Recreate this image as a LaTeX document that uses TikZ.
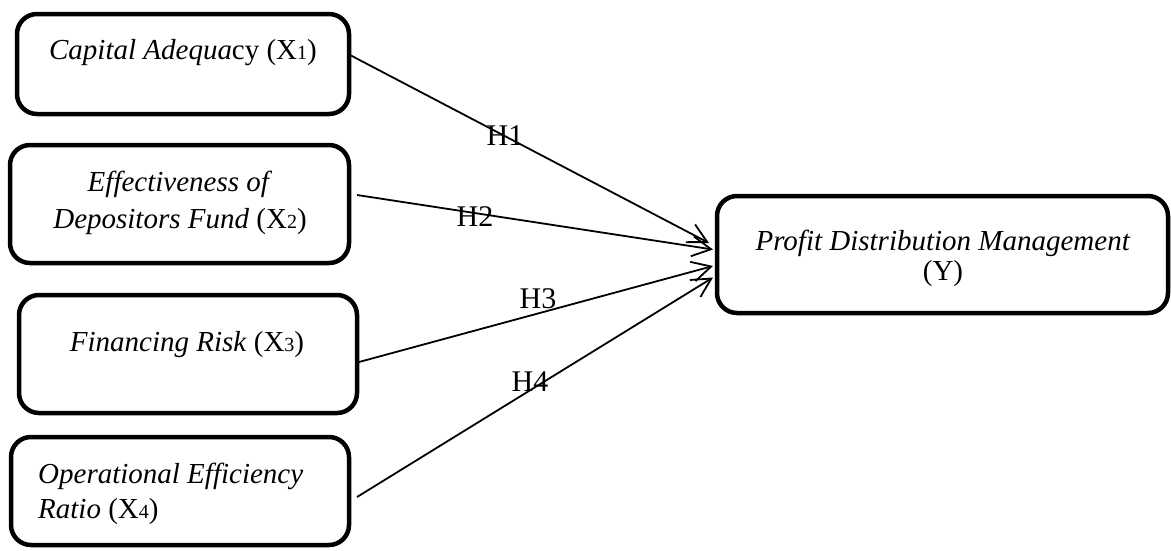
\documentclass[tikz,border=0pt]{standalone}
\usepackage{fontspec}
\setmainfont{Liberation Serif}
\usetikzlibrary{arrows.meta,calc}
\newcommand{\sbd}[1]{{\fontsize{20}{20}\selectfont #1}}
\begin{document}
\begin{tikzpicture}[x=1pt,y=-1pt,
  box/.style={draw=black,line width=4.5pt,rounded corners=20pt,inner sep=0pt,outer sep=0pt},
  txt/.style={font=\fontsize{29}{37}\selectfont,inner sep=0pt},
  lab/.style={font=\fontsize{30}{30}\selectfont,inner sep=0pt},
  arr/.style={line width=1.8pt,-{Straight Barb[length=19pt,width=20pt,line width=1.8pt]}}]
\path[use as bounding box,fill=white] (0,0) rectangle (1171,550);
% boxes
\node[box,minimum width=332pt,minimum height=100pt] (b1) at (183,64) {};
\node[box,minimum width=339pt,minimum height=118pt] (b2) at (179.5,204) {};
\node[box,minimum width=338pt,minimum height=118pt] (b3) at (188,354) {};
\node[box,minimum width=338pt,minimum height=108pt] (b4) at (180,491) {};
\node[box,minimum width=451pt,minimum height=117pt] (y) at (942.5,254.5) {};
% texts
\node[txt,anchor=base] (t1) at (183,59) {\textit{Capital Adequa}cy (X\sbd{1})};
\node[txt,anchor=base,align=center] (t2) at (180,228) {\textit{Effectiveness of}\\\textit{Depositors Fund} (X\sbd{2})};
\node[txt,anchor=base] (t3) at (187,351) {\textit{Financing Risk} (X\sbd{3})};
\node[txt,anchor=base west,align=left,font=\fontsize{29}{35}\selectfont] (t4) at (38,518) {\textit{Operational Efficiency}\\\textit{Ratio} (X\sbd{4})};
\node[txt,anchor=base,align=center,font=\fontsize{29}{30}\selectfont] (ty) at (943,280) {\textit{Profit Distribution Management}\\(Y)};
% connectors
\coordinate (s1) at ($(b1.east)+(1,-9)$);
\coordinate (s2) at ($(b2.east)+(8,-9)$);
\coordinate (s3) at ($(b3.east)+(2,8)$);
\coordinate (s4) at ($(b4.east)+(8,6)$);
\coordinate (e1) at ($(y.west)+(-8,-11.5)$);
\coordinate (e2) at ($(y.west)+(-4,-5)$);
\coordinate (e3) at ($(y.west)+(-4,11.5)$);
\coordinate (e4) at ($(y.west)+(-4,23)$);
\draw[arr] (s1) -- (e1);
\draw[arr] (s2) -- (e2);
\draw[arr] (s3) -- (e3);
\draw[arr] (s4) -- (e4);
% labels
\node[lab] (h1) at (505,136) {H1};
\node[lab] (h2) at (475,217) {H2};
\node[lab] (h3) at (538,299) {H3};
\node[lab] (h4) at (530,382) {H4};
\end{tikzpicture}
\end{document}
